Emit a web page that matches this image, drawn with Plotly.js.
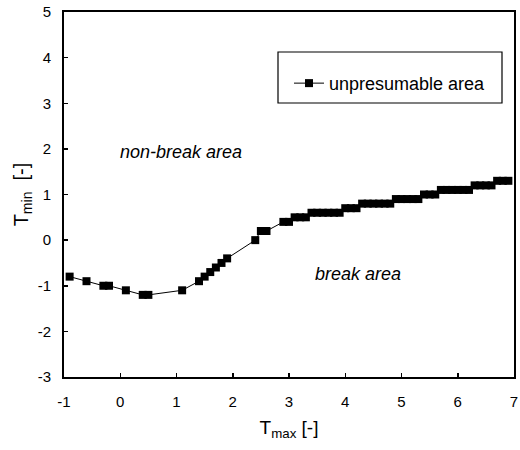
<!DOCTYPE html>
<html>
<head>
<meta charset="utf-8">
<script src="https://cdn.plot.ly/plotly-3.0.1.min.js"></script>
<style>html,body{margin:0;padding:0;background:#fff;}#chart{width:520px;height:450px;}</style>
</head>
<body>
<div id="chart"></div>
<script>
var seriesName = "unpresumable area";
var tMax = [-0.9, -0.6, -0.3, -0.2, 0.1, 0.4, 0.5, 1.1, 1.4, 1.5, 1.6, 1.7, 1.8, 1.9,
  2.4, 2.5, 2.6, 2.9, 3.0, 3.1, 3.2, 3.3, 3.4, 3.5, 3.6, 3.7, 3.8, 3.9,
  4.0, 4.1, 4.2, 4.3, 4.4, 4.5, 4.6, 4.7, 4.8, 4.9, 5.0, 5.1, 5.2, 5.3,
  5.4, 5.5, 5.6, 5.7, 5.8, 5.9, 6.0, 6.1, 6.2, 6.3, 6.4, 6.5, 6.6, 6.7, 6.8, 6.9];
var tMin = [-0.8, -0.9, -1.0, -1.0, -1.1, -1.2, -1.2, -1.1, -0.9, -0.8, -0.7, -0.6, -0.5, -0.4,
  0.0, 0.2, 0.2, 0.4, 0.4, 0.5, 0.5, 0.5, 0.6, 0.6, 0.6, 0.6, 0.6, 0.6,
  0.7, 0.7, 0.7, 0.8, 0.8, 0.8, 0.8, 0.8, 0.8, 0.9, 0.9, 0.9, 0.9, 0.9,
  1.0, 1.0, 1.0, 1.1, 1.1, 1.1, 1.1, 1.1, 1.1, 1.2, 1.2, 1.2, 1.2, 1.3, 1.3, 1.3];
var xTicks = [-1, 0, 1, 2, 3, 4, 5, 6, 7];
var yTicks = [-3, -2, -1, 0, 1, 2, 3, 4, 5];
var regionLabels = ["non-break area", "break area"];
var regionX = [1.08, 4.23];
var regionY = [1.93, -0.75];

var FONT = "Liberation Sans, Arial, sans-serif";

var trace = {
  x: tMax, y: tMin, type: "scatter", mode: "lines+markers", name: seriesName,
  line: {color: "#000", width: 1},
  marker: {symbol: "square", size: 8, color: "#000"},
  cliponaxis: false
};

var annotations = regionLabels.map(function (t, i) {
  return {x: regionX[i], y: regionY[i], xref: "x", yref: "y", text: t, showarrow: false,
    font: {family: FONT, size: 18, color: "#000", style: "italic"}};
});

var layout = {
  width: 520, height: 450,
  margin: {l: 64, r: 6, t: 12, b: 73},
  paper_bgcolor: "#fff", plot_bgcolor: "#fff",
  font: {family: FONT, color: "#000"},
  showlegend: true,
  legend: {x: 0.5, y: 0.855, xanchor: "left", yanchor: "top", bgcolor: "rgba(0,0,0,0)",
    borderwidth: 0, font: {family: FONT, size: 18, color: "#000"}},
  xaxis: {
    range: [-1, 7], tickvals: xTicks, ticktext: xTicks.map(String),
    ticks: "inside", ticklen: 4, tickwidth: 1.5, tickcolor: "#000",
    showline: true, linewidth: 2, linecolor: "#000", mirror: true,
    showgrid: false, zeroline: false,
    tickfont: {family: FONT, size: 15, color: "#000"},
    ticklabelstandoff: 10,
    title: {text: "T<sub>max</sub> [-]", font: {family: FONT, size: 19, color: "#000"}, standoff: 12}
  },
  yaxis: {
    range: [-3, 5], tickvals: yTicks, ticktext: yTicks.map(String),
    ticks: "inside", ticklen: 4, tickwidth: 1.5, tickcolor: "#000",
    showline: true, linewidth: 2, linecolor: "#000", mirror: true,
    showgrid: false, zeroline: false,
    tickfont: {family: FONT, size: 15, color: "#000"},
    ticklabelstandoff: 8,
    title: {text: "T<sub>min</sub>  [-]", font: {family: FONT, size: 20, color: "#000"}, standoff: 4}
  },
  shapes: [{type: "rect", xref: "paper", yref: "paper",
    x0: (278 - 64) / 450, x1: (502 - 64) / 450, y0: (377 - 103) / 365, y1: (377 - 52) / 365,
    line: {color: "#000", width: 1.2}, fillcolor: "rgba(0,0,0,0)"}],
  annotations: annotations
};

Plotly.newPlot("chart", [trace], layout, {displayModeBar: false, staticPlot: true});
</script>
</body>
</html>
